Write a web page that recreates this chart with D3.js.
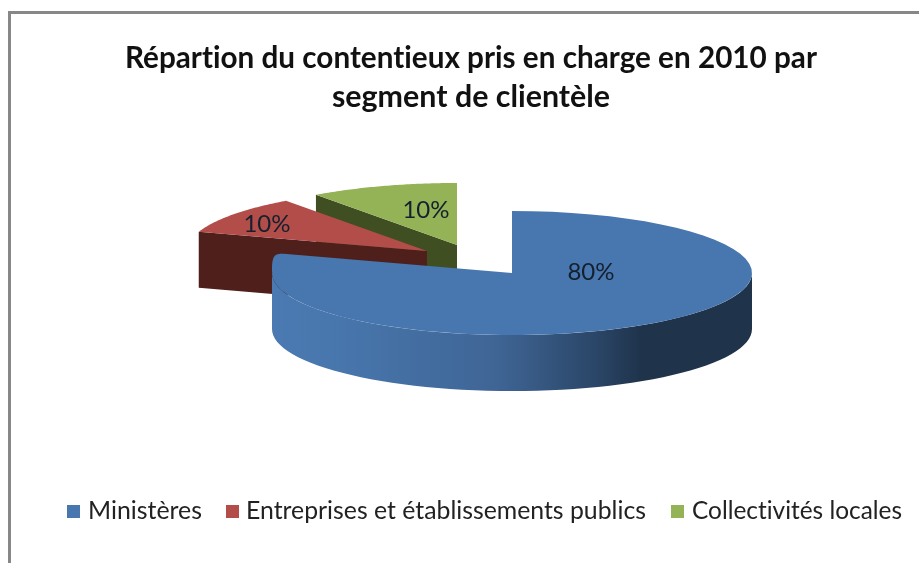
<!DOCTYPE html>
<html><head><meta charset="utf-8">
<script src="https://cdn.jsdelivr.net/npm/d3@7/dist/d3.min.js"></script>
<style>html,body{margin:0;padding:0;background:#fff}svg{display:block;filter:blur(0.5px)}text{font-family:Lato,sans-serif;font-variant-ligatures:none}</style>
</head><body><svg id="c" width="919" height="563"></svg>
<script>
const categories = ["Ministères","Entreprises et établissements publics","Collectivités locales"];
const values = [80,10,10];
const labels = ["80%","10%","10%"];
const titleLines = ["Répartion du contentieux pris en charge en 2010 par","segment de clientèle"];
const topColors = ["#4877af","#b24d4a","#94b356"];
const sideColors = ["#1f334b","#4f1f1c","#3f4f22"];
const centers = [[512,273],[427,251],[457,245]];
const labelPos = [[591,274],[267,226],[426,212]];
const legendX = [[67,88],[226,246],[671,692]];
const legendLen = [114,400,210];
const titleLen = [692,278];
const RX=240, RY=62, DEPTH=56;

const svg = d3.select("#c");
const defs = svg.append("defs");
const grad = defs.append("linearGradient").attr("id","wall").attr("gradientUnits","userSpaceOnUse")
  .attr("x1",272).attr("x2",752).attr("y1",0).attr("y2",0);
[[0,"#4a7ab1"],[0.12,"#4877ae"],[0.47,"#3f6595"],[0.68,"#2a4566"],[0.77,"#1f334b"],[1,"#1f334b"]]
  .forEach(d=>grad.append("stop").attr("offset",d[0]).attr("stop-color",d[1]));

svg.append("rect").attr("x",9.5).attr("y",12.5).attr("width",1000).attr("height",700)
  .attr("fill","none").attr("stroke","#878787").attr("stroke-width",3);

const p = d3.pie().sort(null).value(d=>d)(values);
const pt=(c,a,dy=0)=>[c[0]+RX*Math.sin(a), c[1]-RY*Math.cos(a)+dy];
const line=d3.line();
const rim=(c,a0,a1,dy=0)=>d3.range(0,61).map(i=>pt(c,a0+(a1-a0)*i/60,dy));
const topFace=(c,s)=>line([c,...rim(c,s.startAngle,s.endAngle),c])+"Z";
const cut=(c,a)=>line([c,pt(c,a),pt(c,a,DEPTH),[c[0],c[1]+DEPTH]])+"Z";

// back to front: green, red, blue
svg.append("path").attr("d",cut(centers[2],p[2].startAngle)).attr("fill",sideColors[2]);
svg.append("path").attr("d",topFace(centers[2],p[2])).attr("fill",topColors[2]);
svg.append("path").attr("d",cut(centers[1],p[1].startAngle)).attr("fill",sideColors[1]);
svg.append("path").attr("d",topFace(centers[1],p[1])).attr("fill",topColors[1]);
// blue outer wall: front half of the rim
const a0=Math.PI/2, a1=3*Math.PI/2;
const c0=centers[0];
svg.append("path").attr("d",line([...rim(c0,a0,a1),...rim(c0,a1,a0,DEPTH)])+"Z").attr("fill","url(#wall)");
svg.append("path").attr("d",topFace(c0,p[0])).attr("fill",topColors[0]);
// rounded shoulder joining the top face to the wall on the left
const sL=pt(c0,a1), sE=pt(c0,p[0].endAngle);
svg.append("path").attr("d",d3.line().curve(d3.curveBasis)([sE,sE,[sL[0],sE[1]],sL,sL])+"L"+sE.join(",")+"Z").attr("fill",topColors[0]);

labels.forEach((t,i)=>svg.append("text").attr("x",labelPos[i][0]).attr("y",labelPos[i][1])
  .attr("text-anchor","middle").attr("dominant-baseline","middle").attr("font-size",24).attr("fill","#14202e").text(t));

titleLines.forEach((t,i)=>svg.append("text").attr("x",471).attr("y",[68,107][i]).attr("text-anchor","middle")
  .attr("font-size",30).attr("font-weight",700).attr("fill","#111")
  .attr("textLength",titleLen[i]).attr("lengthAdjust","spacingAndGlyphs").text(t));

categories.forEach((t,i)=>{
  svg.append("rect").attr("x",legendX[i][0]).attr("y",505).attr("width",13).attr("height",13).attr("fill",topColors[i]);
  svg.append("text").attr("x",legendX[i][1]).attr("y",519).attr("font-size",24.5).attr("fill","#222")
    .attr("textLength",legendLen[i]).attr("lengthAdjust","spacingAndGlyphs").text(t);
});
</script></body></html>
